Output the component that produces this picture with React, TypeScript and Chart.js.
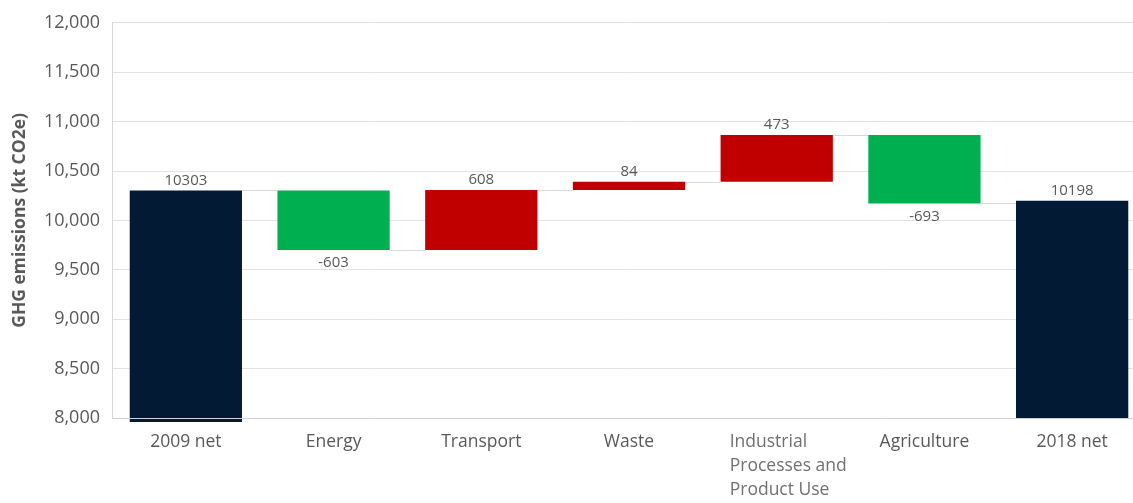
import React, { useEffect, useRef } from "react";
import { Chart, registerables } from "chart.js";

Chart.register(...registerables);

// ---- data ----
const categoryLines: string[][] = [
  ["2009 net"],
  ["Energy"],
  ["Transport"],
  ["Waste"],
  ["Industrial", "Processes and", "Product Use"],
  ["Agriculture"],
  ["2018 net"],
];
const startTotal = 10303;
const endTotal = 10198;
const changes = [-603, 608, 84, 473, -693];
const valueLabels = ["10303", "-603", "608", "84", "473", "-693", "10198"];
const yMin = 8000;
const yMax = 12000;
const yStep = 500;

// ---- styles ----
const NAVY = "#021a33";
const GREEN = "#00b050";
const RED = "#c00000";
const TEXT = "#595959";
const FONT = "'Open Sans', 'DejaVu Sans', sans-serif";

// build floating-bar ranges
const ranges: [number, number][] = [];
const levels: number[] = [];
const colors: string[] = [];
ranges.push([yMin - 40, startTotal]);
colors.push(NAVY);
let running = startTotal;
levels.push(running);
for (const c of changes) {
  const next = running + c;
  ranges.push([Math.min(running, next), Math.max(running, next)]);
  colors.push(c < 0 ? GREEN : RED);
  running = next;
  levels.push(running);
}
ranges.push([yMin, endTotal]);
colors.push(NAVY);

const isNegative = [false, ...changes.map((c) => c < 0), false];

const waterfallPlugin = {
  id: "waterfallExtras",
  beforeDatasetsDraw(chart: any) {
    const ctx = chart.ctx;
    const meta = chart.getDatasetMeta(0);
    const y = chart.scales.y;
    ctx.save();
    ctx.strokeStyle = "#d9d9d9";
    ctx.lineWidth = 1;
    for (let i = 0; i < meta.data.length - 1; i++) {
      const a = meta.data[i];
      const b = meta.data[i + 1];
      const yy = Math.round(y.getPixelForValue(levels[i])) + 0.5;
      ctx.beginPath();
      ctx.moveTo(a.x + a.width / 2, yy);
      ctx.lineTo(b.x - b.width / 2, yy);
      ctx.stroke();
    }
    ctx.restore();
  },
  afterDatasetsDraw(chart: any) {
    const ctx = chart.ctx;
    const meta = chart.getDatasetMeta(0);
    const area = chart.chartArea;
    ctx.save();
    // axis line drawn over the bars
    ctx.strokeStyle = "#d0d4da";
    ctx.lineWidth = 1;
    ctx.beginPath();
    ctx.moveTo(area.left, Math.round(area.bottom) + 0.5);
    ctx.lineTo(area.right, Math.round(area.bottom) + 0.5);
    ctx.stroke();

    ctx.font = `15px ${FONT}`;
    ctx.fillStyle = TEXT;
    ctx.textAlign = "center";
    ctx.textBaseline = "middle";
    meta.data.forEach((bar: any, i: number) => {
      const top = Math.min(bar.y, bar.base);
      const bottom = Math.max(bar.y, bar.base);
      if (isNegative[i]) {
        ctx.fillText(valueLabels[i], bar.x, bottom + 13);
      } else {
        ctx.fillText(valueLabels[i], bar.x, top - 10);
      }
    });
    // category labels
    const x = chart.scales.x;
    const baseY = area.bottom + 24;
    categoryLines.forEach((lines, i) => {
      const cx = x.getPixelForValue(i);
      const multi = lines.length > 1;
      ctx.font = `${multi ? 400 : 500} 17.5px ${FONT}`;
      ctx.fillStyle = multi ? "#707070" : TEXT;
      if (multi) {
        ctx.textAlign = "left";
        lines.forEach((ln, k) => ctx.fillText(ln, cx - 47, baseY + k * 24));
      } else {
        ctx.textAlign = "center";
        ctx.fillText(lines[0], cx, baseY);
      }
    });
    ctx.restore();
  },
};

export default function App() {
  const ref = useRef<HTMLCanvasElement>(null);
  useEffect(() => {
    if (!ref.current) return;
    const chart = new Chart(ref.current, {
      type: "bar",
      data: {
        labels: categoryLines.map((l) => l.join(" ")),
        datasets: [
          {
            data: ranges as any,
            backgroundColor: colors,
            borderWidth: 0,
            barPercentage: 0.76,
            categoryPercentage: 1,
            clip: false as any,
          },
        ],
      },
      options: {
        animation: false,
        responsive: false,
        devicePixelRatio: 1,
        layout: { padding: { top: 20, right: 0, bottom: 0, left: 0 } },
        plugins: {
          legend: { display: false },
          tooltip: { enabled: false },
        },
        scales: {
          x: {
            grid: { display: false },
            border: { display: true, color: "#d9d9d9" },
            ticks: { display: false },
            afterFit: (s: any) => {
              s.height = 85;
            },
          },
          y: {
            min: yMin,
            max: yMax,
            ticks: {
              stepSize: yStep,
              color: TEXT,
              font: { size: 18, family: FONT },
              padding: 12,
            },
            grid: { color: "#e3e3e3", drawTicks: false },
            border: { display: true, color: "#d9d9d9" },
            title: {
              display: true,
              text: "GHG emissions (kt CO2e)",
              color: TEXT,
              font: { size: 17.5, weight: "bold", family: FONT },
              padding: { top: 10, bottom: 4 },
            },
            afterFit: (s: any) => {
              s.width = 112;
            },
          },
        },
      },
      plugins: [waterfallPlugin],
    });
    return () => chart.destroy();
  }, []);
  return (
    <div style={{ position: "fixed", left: 0, top: 0, width: 1146, height: 503, background: "#fff" }}>
      <canvas ref={ref} width={1146} height={503} />
    </div>
  );
}
